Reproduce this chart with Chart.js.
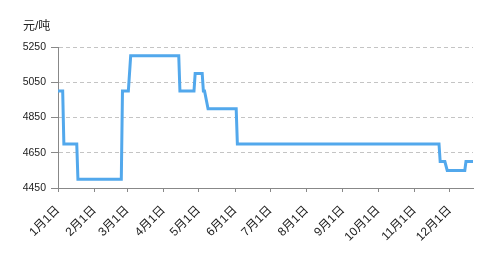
<!DOCTYPE html>
<html>
<head>
<meta charset="utf-8">
<script src="https://cdn.jsdelivr.net/npm/chart.js@4/dist/chart.umd.min.js"></script>
<style>
  html, body { margin: 0; padding: 0; background: #fff; }
  #wrap { width: 491px; height: 265px; }
</style>
</head>
<body>
<div id="wrap"><canvas id="price-chart"></canvas></div>
<script>
// Price series (date -> 元/吨)
const dates = ['1-1', '1-5', '1-6', '1-17', '1-18', '2-24', '2-25', '3-2', '3-4',
    '4-14', '4-15', '4-27', '4-28', '5-4', '5-5', '5-6', '5-9', '6-2', '6-3',
    '11-22', '11-23', '11-27', '11-29', '12-14', '12-15', '12-21'];
const prices = [5000, 5000, 4700, 4700, 4500, 4500, 5000, 5000, 5200,
    5200, 5000, 5000, 5100, 5100, 5000, 5000, 4900, 4900, 4700,
    4700, 4600, 4600, 4550, 4550, 4600, 4600];

const monthLabels = ['1月1日', '2月1日', '3月1日', '4月1日', '5月1日', '6月1日',
    '7月1日', '8月1日', '9月1日', '10月1日', '11月1日', '12月1日'];
const monthStart = [0, 31, 59, 90, 120, 151, 181, 212, 243, 273, 304, 334];
const yTicks = [4450, 4650, 4850, 5050, 5250];

const unitLabel = '元/吨';
const fontFamily = '"Liberation Sans", "Noto Sans CJK SC", sans-serif';

function dayOfYear(s) {
    const parts = s.split('-');
    return monthStart[parseInt(parts[0]) - 1] + parseInt(parts[1]) - 1;
}

const points = dates.map(function(d, i) {
    return { x: dayOfYear(d), y: prices[i] };
});

const unitPlugin = {
    id: 'unitLabel',
    afterDraw: function(chart) {
        const ctx = chart.ctx;
        ctx.save();
        ctx.font = '12px ' + fontFamily;
        ctx.fillStyle = '#222';
        ctx.textBaseline = 'middle';
        ctx.textAlign = 'left';
        ctx.fillText(unitLabel, 23, 27);
        ctx.restore();
    }
};

const ctx = document.getElementById('price-chart').getContext('2d');
new Chart(ctx, {
    type: 'line',
    data: {
        datasets: [{
            data: points,
            borderColor: '#52a8ec',
            borderWidth: 3,
            pointRadius: 0,
            tension: 0,
            fill: false
        }]
    },
    options: {
        responsive: true,
        maintainAspectRatio: false,
        animation: false,
        events: [],
        layout: { padding: { top: 47, right: 18, bottom: 0, left: 0 } },
        plugins: {
            legend: { display: false },
            tooltip: { enabled: false }
        },
        scales: {
            x: {
                type: 'linear',
                min: 0,
                max: dayOfYear(dates[dates.length - 1]),
                afterBuildTicks: function(scale) {
                    scale.ticks = monthStart.map(function(v) { return { value: v }; });
                },
                afterFit: function(scale) { scale.height = 77; },
                grid: {
                    drawOnChartArea: false,
                    drawTicks: true,
                    tickLength: 4,
                    tickColor: '#888'
                },
                border: { color: '#888', width: 1 },
                ticks: {
                    autoSkip: false,
                    maxRotation: 45,
                    minRotation: 45,
                    padding: 11,
                    color: '#222',
                    font: { size: 12, family: fontFamily },
                    callback: function(value) {
                        return monthLabels[monthStart.indexOf(value)];
                    }
                }
            },
            y: {
                min: 4450,
                max: 5250,
                afterBuildTicks: function(scale) {
                    scale.ticks = yTicks.map(function(v) { return { value: v }; });
                },
                afterFit: function(scale) { scale.width = 58; },
                grid: {
                    color: function(c) {
                        return c.tick && c.tick.value === 4450 ? 'rgba(0,0,0,0)' : '#c4c4c4';
                    },
                    tickLength: 7,
                    tickColor: '#888'
                },
                border: { color: '#888', width: 1, dash: [4, 3] },
                ticks: {
                    padding: 5,
                    color: '#222',
                    font: { size: 10.5, family: fontFamily },
                    callback: function(value) { return String(value); }
                }
            }
        }
    },
    plugins: [unitPlugin]
});
</script>
</body>
</html>
